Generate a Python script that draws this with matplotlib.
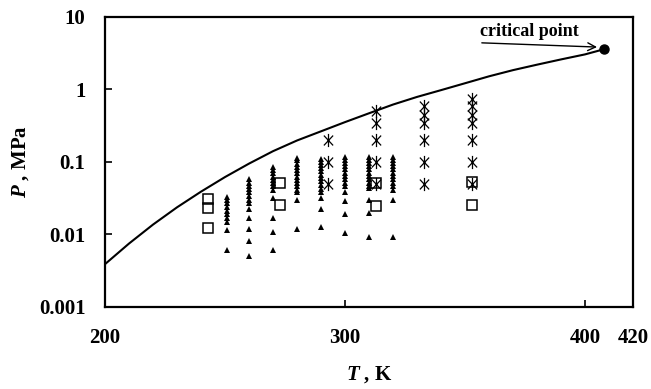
import matplotlib
matplotlib.use("Agg")
import matplotlib.pyplot as plt
from matplotlib.path import Path
from matplotlib.ticker import FixedLocator, FixedFormatter, NullLocator

# ---------------- data ----------------
curve_T = [200, 210, 220, 230, 240, 250, 260, 270, 280, 290, 300, 310,
           320, 330, 340, 350, 360, 370, 380, 390, 400, 408]
curve_P = [0.0039, 0.0075, 0.0137, 0.0237, 0.039, 0.062, 0.095, 0.141, 0.198,
           0.265, 0.355, 0.47, 0.62, 0.79, 0.98, 1.22, 1.52, 1.85, 2.2, 2.6,
           3.05, 3.6]

crit_T = [408]
crit_P = [3.6]

tri_T = [251, 260, 270, 280, 290, 300, 310, 320]
tri_P = [
    [0.033, 0.030, 0.027, 0.024, 0.021, 0.019, 0.017, 0.015, 0.0115, 0.0062],
    [0.058, 0.052, 0.047, 0.042, 0.038, 0.034, 0.030, 0.027, 0.0225, 0.0169,
     0.0119, 0.0081, 0.0051],
    [0.085, 0.077, 0.070, 0.063, 0.057, 0.051, 0.046, 0.041, 0.0314, 0.0171,
     0.0107, 0.0062],
    [0.115, 0.105, 0.095, 0.085, 0.077, 0.070, 0.063, 0.057, 0.051, 0.046,
     0.041, 0.0386, 0.030, 0.0119],
    [0.110, 0.100, 0.091, 0.082, 0.074, 0.067, 0.060, 0.054, 0.048, 0.043,
     0.0386, 0.0322, 0.0223, 0.0126],
    [0.118, 0.107, 0.097, 0.087, 0.079, 0.071, 0.064, 0.058, 0.052, 0.046,
     0.039, 0.029, 0.019, 0.0104],
    [0.118, 0.107, 0.097, 0.087, 0.079, 0.071, 0.064, 0.058, 0.052, 0.047,
     0.0437, 0.030, 0.0196, 0.0093],
    [0.118, 0.107, 0.097, 0.087, 0.079, 0.071, 0.064, 0.058, 0.052, 0.046,
     0.041, 0.030, 0.0093],
]

sq_T = [243, 243, 243, 273, 273, 313, 313, 353, 353]
sq_P = [0.031, 0.0235, 0.0123, 0.052, 0.0255, 0.051, 0.025, 0.053, 0.0255]

star_T = [293, 293, 293,
          313, 313, 313, 313, 313,
          333, 333, 333, 333, 333, 333,
          353, 353, 353, 353, 353, 353, 353]
star_P = [0.2, 0.1, 0.05,
          0.5, 0.35, 0.2, 0.1, 0.05,
          0.6, 0.45, 0.35, 0.2, 0.1, 0.05,
          0.75, 0.6, 0.45, 0.35, 0.2, 0.1, 0.05]

x_ticks = [200, 300, 400, 420]
x_tick_labels = ["200", "300", "400", "420"]
y_ticks = [0.001, 0.01, 0.1, 1, 10]
y_tick_labels = ["0.001", "0.01", "0.1", "1", "10"]

# ---------------- style ----------------
plt.rcParams["font.family"] = ["Liberation Serif", "DejaVu Serif"]
plt.rcParams["font.weight"] = "bold"
plt.rcParams["mathtext.fontset"] = "custom"
plt.rcParams["mathtext.it"] = "Liberation Serif:italic:bold"
plt.rcParams["mathtext.rm"] = "Liberation Serif:bold"
plt.rcParams["mathtext.bf"] = "Liberation Serif:bold"

star_marker = Path(
    [(-0.7, -0.75), (0.7, 0.75), (-0.7, 0.75), (0.7, -0.75), (0, -1), (0, 1)],
    [Path.MOVETO, Path.LINETO, Path.MOVETO, Path.LINETO, Path.MOVETO, Path.LINETO],
)

fig = plt.figure(figsize=(6.51, 3.89), dpi=100)
ax = fig.add_axes([0.1613, 0.2108, 0.8111, 0.7455])

ax.plot(curve_T, curve_P, color="black", lw=1.5, zorder=3)
ax.plot(crit_T, crit_P, "o", color="black", ms=6.5, zorder=4)

for t, plist in zip(tri_T, tri_P):
    ax.plot([t] * len(plist), plist, linestyle="none", marker="^",
            color="black", ms=5, mew=0, zorder=2)

ax.plot(sq_T, sq_P, linestyle="none", marker="s", mfc="none", mec="black",
        ms=7.5, mew=1.1, zorder=2)
ax.plot(star_T, star_P, linestyle="none", marker=star_marker, color="black",
        ms=9.5, mew=0.9, zorder=2)

ax.set_xscale("linear")
ax.set_yscale("log")
ax.set_xlim(200, 420)
ax.set_ylim(0.001, 10)

ax.xaxis.set_major_locator(FixedLocator(x_ticks))
ax.xaxis.set_major_formatter(FixedFormatter(x_tick_labels))
ax.yaxis.set_major_locator(FixedLocator(y_ticks))
ax.yaxis.set_major_formatter(FixedFormatter(y_tick_labels))
ax.xaxis.set_minor_locator(NullLocator())
ax.yaxis.set_minor_locator(NullLocator())

ax.tick_params(axis="both", direction="in", length=5, width=1.2,
               labelsize=15)
ax.tick_params(axis="x", pad=15)
ax.tick_params(axis="y", pad=14)
for lab in ax.get_xticklabels() + ax.get_yticklabels():
    lab.set_fontweight("bold")

for s in ax.spines.values():
    s.set_linewidth(1.6)

ax.set_xlabel(r"$T$ , K", fontsize=15, fontweight="bold", labelpad=12)
ax.set_ylabel(r"$P$ , MPa", fontsize=15, fontweight="bold", labelpad=6)

ax.annotate("", xy=(405, 3.85), xytext=(357, 4.4),
            arrowprops=dict(arrowstyle="->", color="black", lw=1.0,
                            shrinkA=0, shrinkB=0, mutation_scale=14))
ax.text(377, 6.3, "critical point", ha="center", va="center",
        fontsize=13, fontweight="bold")

fig.savefig("out.png", dpi=100)
